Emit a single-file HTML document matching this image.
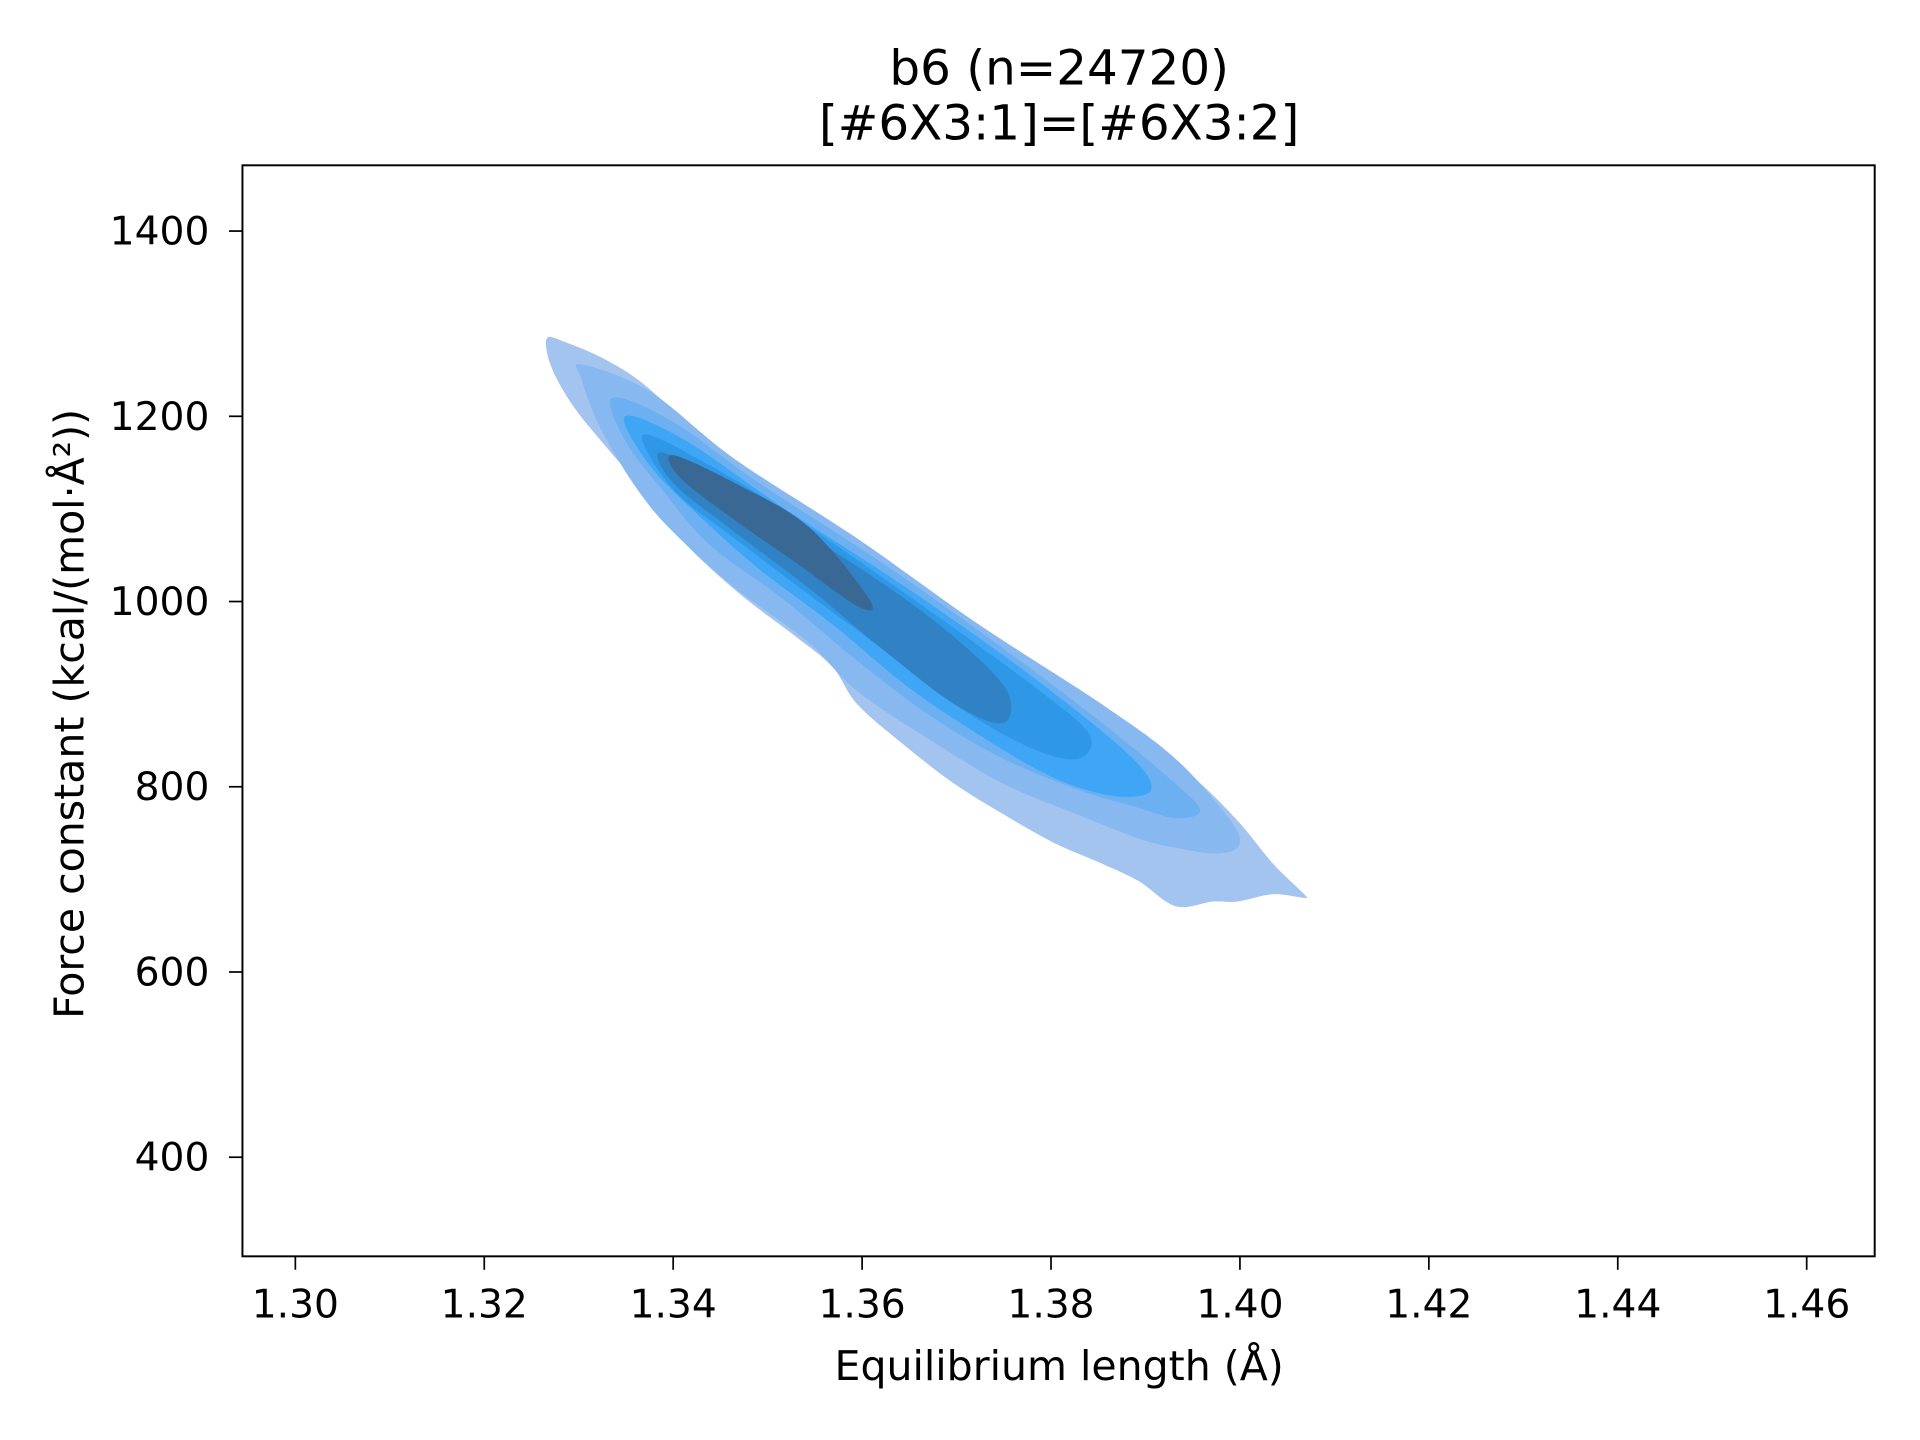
<!DOCTYPE html>
<html><head><meta charset="utf-8"><style>
html,body{margin:0;padding:0;background:#fff;}
svg{display:block;font-family:"DejaVu Sans","Liberation Sans",sans-serif;}
</style></head><body>
<svg width="1920" height="1440" viewBox="0 0 1568 1176" xmlns="http://www.w3.org/2000/svg">
<g id="contours"></g>
<rect x="198" y="135" width="1333" height="891" fill="none" stroke="#000" stroke-width="1.6"/>
<g id="xticks"></g>
<g id="yticks"></g>
<text x="865" y="69" font-size="39.5" text-anchor="middle">b6 (n=24720)</text>
<text x="865" y="114" font-size="39.5" text-anchor="middle">[#6X3:1]=[#6X3:2]</text>
<text x="865" y="1127" font-size="33.5" text-anchor="middle">Equilibrium length (Å)</text>
<text transform="translate(68,583) rotate(-90)" font-size="33.5" text-anchor="middle">Force constant (kcal/(mol·Å²))</text>
</svg>
<script>
const xTicks=[1.30,1.32,1.34,1.36,1.38,1.40,1.42,1.44,1.46];
const yTicks=[400,600,800,1000,1200,1400];
const levelColors=["#a3c4ef","#87b9f0","#6cb0f2","#3fa6f5","#2f98e6","#3182c4","#3a6895"];
const level0=[[1.3267,1285],[1.3286,1280],[1.3323,1264],[1.3362,1240],[1.3400,1207],[1.3439,1174],[1.3491,1134],[1.3543,1094],[1.3595,1057],[1.3647,1022],[1.3698,989],[1.3750,949],[1.3802,909],[1.3854,876],[1.3906,843],[1.3951,810],[1.3997,764],[1.4035,717],[1.4068,684],[1.4068,680],[1.4035,684],[1.3997,676],[1.3971,676],[1.3932,671],[1.3893,698],[1.3854,717],[1.3802,740],[1.3750,770],[1.3698,803],[1.3647,843],[1.3595,889],[1.3569,929],[1.3530,962],[1.3478,1002],[1.3433,1042],[1.3398,1079],[1.3394,1088],[1.3362,1128],[1.3329,1167],[1.3297,1207],[1.3277,1240],[1.3267,1266]];
const level1=[[1.3303,1256],[1.3375,1227],[1.3465,1154],[1.3595,1068],[1.3724,975],[1.3854,889],[1.3932,830],[1.3990,764],[1.3999,737],[1.3977,728],[1.3932,734],[1.3893,744],[1.3828,770],[1.3750,803],[1.3673,850],[1.3595,903],[1.3543,956],[1.3465,1015],[1.3400,1075],[1.3362,1121],[1.3323,1187],[1.3303,1240]];
const level2=[[1.3336,1220],[1.3400,1194],[1.3491,1128],[1.3621,1042],[1.3750,949],[1.3854,869],[1.3932,803],[1.3958,774],[1.3932,766],[1.3893,777],[1.3828,797],[1.3750,830],[1.3673,876],[1.3595,936],[1.3517,1002],[1.3439,1061],[1.3388,1121],[1.3349,1174]];
const level3=[[1.3349,1200],[1.3413,1174],[1.3517,1101],[1.3647,1015],[1.3776,922],[1.3880,837],[1.3906,797],[1.3867,790],[1.3802,810],[1.3724,856],[1.3647,909],[1.3569,975],[1.3491,1035],[1.3426,1094],[1.3375,1147]];
const level4=[[1.3368,1180],[1.3439,1147],[1.3543,1081],[1.3673,989],[1.3789,903],[1.3841,856],[1.3828,830],[1.3776,843],[1.3698,889],[1.3621,949],[1.3543,1008],[1.3465,1068],[1.3400,1121]];
const level5=[[1.3388,1161],[1.3465,1121],[1.3569,1055],[1.3673,982],[1.3750,909],[1.3750,869],[1.3698,889],[1.3621,949],[1.3543,1015],[1.3465,1075],[1.3400,1128]];
const level6=[[1.3400,1158],[1.3465,1128],[1.3543,1081],[1.3608,1002],[1.3595,995],[1.3530,1042],[1.3465,1088],[1.3407,1134]];
const levels=[level0,level1,level2,level3,level4,level5,level6];
const X0=198,X1=1531,Y0=1026,Y1=135,XMIN=1.2944,XMAX=1.4672,YMIN=293,YMAX=1471;
function sx(v){return X0+(v-XMIN)/(XMAX-XMIN)*(X1-X0);}
function sy(v){return Y0-(v-YMIN)/(YMAX-YMIN)*(Y0-Y1);}
function smoothPath(pts){
  const n=pts.length;let d='M'+pts[0][0].toFixed(1)+','+pts[0][1].toFixed(1);
  for(let i=0;i<n;i++){
    const p0=pts[(i-1+n)%n],p1=pts[i],p2=pts[(i+1)%n],p3=pts[(i+2)%n];
    const t=0.3;
    const c1=[p1[0]+(p2[0]-p0[0])*t/1.8,p1[1]+(p2[1]-p0[1])*t/1.8];
    const c2=[p2[0]-(p3[0]-p1[0])*t/1.8,p2[1]-(p3[1]-p1[1])*t/1.8];
    d+='C'+c1[0].toFixed(1)+','+c1[1].toFixed(1)+' '+c2[0].toFixed(1)+','+c2[1].toFixed(1)+' '+p2[0].toFixed(1)+','+p2[1].toFixed(1);
  }
  return d+'Z';
}
const NS="http://www.w3.org/2000/svg";
const cg=document.getElementById('contours');
levels.forEach((lv,i)=>{
  const p=document.createElementNS(NS,'path');
  p.setAttribute('d',smoothPath(lv.map(d=>[sx(d[0]),sy(d[1])])));
  p.setAttribute('fill',levelColors[i]);
  
  
  cg.appendChild(p);
});
const xg=document.getElementById('xticks');
xTicks.forEach(t=>{
  const x=sx(t);
  const l=document.createElementNS(NS,'line');
  l.setAttribute('x1',x);l.setAttribute('x2',x);l.setAttribute('y1',Y0);l.setAttribute('y2',Y0+11);
  l.setAttribute('stroke','#000');l.setAttribute('stroke-width','1.4');
  
  
  xg.appendChild(l);
  const tx=document.createElementNS(NS,'text');
  tx.setAttribute('x',x);tx.setAttribute('y',Y0+50);tx.setAttribute('font-size','32');tx.setAttribute('text-anchor','middle');
  tx.textContent=t.toFixed(2);
  
  
  xg.appendChild(tx);
});
const yg=document.getElementById('yticks');
yTicks.forEach(t=>{
  const y=sy(t);
  const l=document.createElementNS(NS,'line');
  l.setAttribute('x1',X0-11);l.setAttribute('x2',X0);l.setAttribute('y1',y);l.setAttribute('y2',y);
  l.setAttribute('stroke','#000');l.setAttribute('stroke-width','1.4');
  
  
  yg.appendChild(l);
  const tx=document.createElementNS(NS,'text');
  tx.setAttribute('x',X0-27);tx.setAttribute('y',y+11);tx.setAttribute('font-size','32');tx.setAttribute('text-anchor','end');
  tx.textContent=String(t);
  
  
  yg.appendChild(tx);
});
</script>
</body></html>
